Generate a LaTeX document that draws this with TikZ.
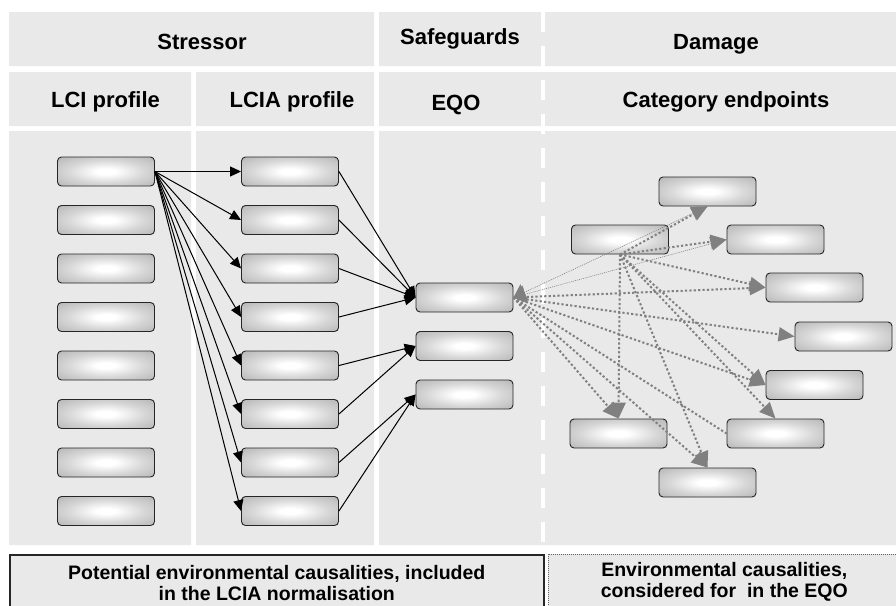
\documentclass[tikz,border=0pt]{standalone}
\usepackage{fontspec}
\setmainfont{Liberation Sans}
\usetikzlibrary{arrows.meta,positioning}
\definecolor{panelgray}{RGB}{233,233,233}
\definecolor{linkgray}{RGB}{128,128,128}
\pgfdeclareradialshading{unitshade}{\pgfpoint{0bp}{0bp}}{color(0bp)=(white); color(5bp)=(white); color(20bp)=(black!16); color(35bp)=(black!28); color(50bp)=(black!36); color(72bp)=(black!44)}

\begin{document}
\begin{tikzpicture}[x=1pt,y=-1pt,->,>={Triangle[length=11pt,width=10pt]},node distance=48.5pt,
  unit/.style={rectangle,rounded corners=4pt,draw=black!85,line width=0.9pt,shade,shading=unitshade,minimum width=97pt,minimum height=29pt,inner sep=0pt},
  head/.style={font=\bfseries\fontsize{22}{26}\selectfont,anchor=base,inner sep=0pt},
  note/.style={fill=panelgray,font=\bfseries\fontsize{19.5}{21}\selectfont,align=center,anchor=north west,inner sep=0pt,minimum height=56pt},
  feed/.style={line width=1pt},
  hint/.style={linkgray,line width=2pt,dash pattern=on 2.2pt off 2.2pt,-{Triangle[length=16pt,width=14pt]}},
  faint/.style={linkgray,line width=0.6pt,dash pattern=on 1pt off 1pt,{Triangle[length=12pt,width=18pt]}-{Triangle[length=16pt,width=14pt]}}]
  \useasboundingbox (0,0) rectangle (896,605);
  \fill[panelgray,-] (9,12) rectangle (374,66) (379,12) rectangle (896,66)
    (9,72) rectangle (191,126) (196,72) rectangle (374,126) (379,72) rectangle (896,126)
    (9,131) rectangle (191,545) (196,131) rectangle (374,545) (379,131) rectangle (896,545);
  \draw[white,line width=4pt,dash pattern=on 20pt off 14pt,-] (543,12) -- (543,545);

  \node[head] (stressor)    at (202,49)  {Stressor};
  \node[head] (safeguards)  at (460,44)  {Safeguards};
  \node[head] (damage)      at (716,49)  {Damage};
  \node[head] (lciprofile)  at (105.5,107) {LCI profile};
  \node[head] (lciaprofile) at (292,107) {LCIA profile};
  \node[head] (eqo)         at (456,110) {EQO};
  \node[head] (catend)      at (726,107) {Category endpoints};

  \node[unit] (lci1) at (106,171.5) {};
  \node[unit] (lci2) [below of=lci1] {};
  \node[unit] (lci3) [below of=lci2] {};
  \node[unit] (lci4) [below of=lci3] {};
  \node[unit] (lci5) [below of=lci4] {};
  \node[unit] (lci6) [below of=lci5] {};
  \node[unit] (lci7) [below of=lci6] {};
  \node[unit] (lci8) [below of=lci7] {};

  \node[unit] (lcia1) at (290,171.5) {};
  \node[unit] (lcia2) [below of=lcia1] {};
  \node[unit] (lcia3) [below of=lcia2] {};
  \node[unit] (lcia4) [below of=lcia3] {};
  \node[unit] (lcia5) [below of=lcia4] {};
  \node[unit] (lcia6) [below of=lcia5] {};
  \node[unit] (lcia7) [below of=lcia6] {};
  \node[unit] (lcia8) [below of=lcia7] {};

  \node[unit] (eqo1) at (464.5,297.5) {};
  \node[unit] (eqo2) [below of=eqo1] {};
  \node[unit] (eqo3) [below of=eqo2] {};

  \node[unit] (cat1) at (707.5,191.5) {};
  \node[unit] (cat2) at (620,239.5)   {};
  \node[unit] (cat3) at (775.5,239.5) {};
  \node[unit] (cat4) at (814.5,287.5) {};
  \node[unit] (cat5) at (843.5,336.5) {};
  \node[unit] (cat6) at (814.5,385)   {};
  \node[unit] (cat7) at (775.5,433.5) {};
  \node[unit] (cat8) at (618.5,433.5) {};
  \node[unit] (cat9) at (707.5,482.5) {};

  \node[note,draw=black!85,line width=1.5pt,minimum width=534pt] (causal) at (9,554)
    {Potential environmental causalities, included\\in the LCIA normalisation};
  \node[note,draw=black!60,line width=0.6pt,dash pattern=on 1pt off 1pt,minimum width=352pt] (considered) at (548,554)
    {Environmental causalities,\\considered for~ in the EQO};

  \path (lci1.east) edge[feed] (lcia1.west)
                    edge[feed] (lcia2.west)
                    edge[feed] (lcia3.west)
                    edge[feed] (lcia4.west)
                    edge[feed] (lcia5.west)
                    edge[feed] (lcia6.west)
                    edge[feed] (lcia7.west)
                    edge[feed] (lcia8.west)
        (lcia1.east) edge[feed] (eqo1.west)
        (lcia2.east) edge[feed] (eqo1.west)
        (lcia3.east) edge[feed] (eqo1.west)
        (lcia4.east) edge[feed] (eqo1.west)
        (lcia5.east) edge[feed] (eqo2.west)
        (lcia6.east) edge[feed] (eqo2.west)
        (lcia7.east) edge[feed] (eqo3.west)
        (lcia8.east) edge[feed] (eqo3.west);

  \path (eqo1.east) edge[faint] (cat1.south)
                    edge[faint] (cat3.west)
                    edge[hint]  (cat4.west)
                    edge[hint]  (cat5.west)
                    edge[hint]  (cat6.west)
                    edge[hint,-] (cat7.west)
                    edge[hint]  (cat8.north)
                    edge[hint]  (cat9.north)
        (cat2.south) edge[hint] (cat1.south)
                     edge[hint] (cat3.west)
                     edge[hint] (cat4.west)
                     edge[hint] (cat6.west)
                     edge[hint] (cat7.north)
                     edge[hint] (cat8.north)
                     edge[hint] (cat9.north);
\end{tikzpicture}
\end{document}
